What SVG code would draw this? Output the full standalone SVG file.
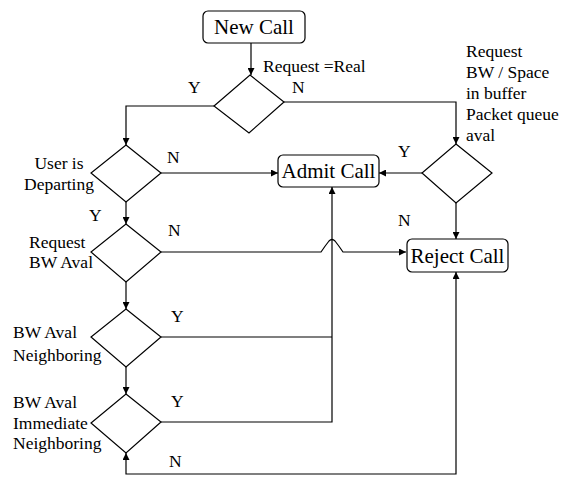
<svg xmlns="http://www.w3.org/2000/svg" width="569" height="477" viewBox="0 0 569 477">
<style>
.box{fill:#fff;stroke:#000;stroke-width:1.2}
.dia{fill:#fff;stroke:#000;stroke-width:1.2}
.ln{fill:none;stroke:#000;stroke-width:1.2}
.bt{font-size:21px;text-anchor:middle;fill:#000}
.lb{font-size:17.5px;fill:#000}
</style>
<defs>
<marker id="ah" viewBox="0 0 10 10" refX="10" refY="5" markerWidth="8" markerHeight="7" markerUnits="userSpaceOnUse" orient="auto-start-reverse">
<path d="M0,0 L10,5 L0,10 z" fill="#000"/>
</marker>
</defs>
<rect width="569" height="477" fill="#fff"/>
<g id="connectors">
<path class="ln" d="M251,43 V75" marker-end="url(#ah)"/>
<path class="ln" d="M214,106 H126 V145" marker-end="url(#ah)"/>
<path class="ln" d="M284,102 H456 V144" marker-end="url(#ah)"/>
<path class="ln" d="M161,173 H278" marker-end="url(#ah)"/>
<path class="ln" d="M126,202 V224" marker-end="url(#ah)"/>
<path class="ln" d="M161,252 H321 Q325,246 329,241 Q332,238 335,241 Q339,246 343,252 H406" marker-end="url(#ah)"/>
<path class="ln" d="M126,282 V309" marker-end="url(#ah)"/>
<path class="ln" d="M161,337 H332"/>
<path class="ln" d="M126,367 V394" marker-end="url(#ah)"/>
<path class="ln" d="M161,422 H332 V187" marker-end="url(#ah)"/>
<path class="ln" d="M126,453 V474 H456 V272" marker-start="url(#ah)" marker-end="url(#ah)"/>
<path class="ln" d="M422,173 H379" marker-end="url(#ah)"/>
<path class="ln" d="M456,203 V239" marker-end="url(#ah)"/>
</g>
<g font-family="Liberation Serif, DejaVu Serif, serif">
<g id="new-call">
<rect class="box" x="203" y="11" width="102" height="32" rx="5"/>
<text class="bt" x="254" y="34">New Call</text>
</g>
<g id="d-real">
<polygon class="dia" points="250,75 284,102 249,133 214,106"/>
<text class="lb" x="263" y="72">Request =Real</text>
<text class="lb" x="188" y="93">Y</text>
<text class="lb" x="292" y="93">N</text>
</g>
<g id="d-departing">
<polygon class="dia" points="126,145 161,173 126,202 91,173"/>
<text class="lb" x="59" y="169" text-anchor="middle">User is</text>
<text class="lb" x="59" y="190" text-anchor="middle">Departing</text>
<text class="lb" x="167" y="163">N</text>
<text class="lb" x="89" y="221">Y</text>
</g>
<g id="d-bw">
<polygon class="dia" points="126,224 161,252 126,282 91,252"/>
<text class="lb" x="29" y="248">Request</text>
<text class="lb" x="29" y="268">BW Aval</text>
<text class="lb" x="168" y="236">N</text>
</g>
<g id="d-neigh">
<polygon class="dia" points="126,309 161,337 126,367 91,337"/>
<text class="lb" x="13" y="338">BW Aval</text>
<text class="lb" x="13" y="361">Neighboring</text>
<text class="lb" x="171" y="322">Y</text>
</g>
<g id="d-imm">
<polygon class="dia" points="126,394 161,422 126,453 91,423"/>
<text class="lb" x="13" y="408">BW Aval</text>
<text class="lb" x="13" y="429">Immediate</text>
<text class="lb" x="13" y="449">Neighboring</text>
<text class="lb" x="171" y="407">Y</text>
<text class="lb" x="169" y="467">N</text>
</g>
<g id="admit-call">
<rect class="box" x="278" y="155" width="101" height="32" rx="5"/>
<text class="bt" x="328.5" y="178">Admit Call</text>
</g>
<g id="d-buffer">
<polygon class="dia" points="456,144 492,173 456,203 422,173"/>
<text class="lb" x="466" y="57">Request</text>
<text class="lb" x="466" y="78">BW / Space</text>
<text class="lb" x="466" y="99">in buffer</text>
<text class="lb" x="466" y="120">Packet queue</text>
<text class="lb" x="466" y="141">aval</text>
<text class="lb" x="398" y="157">Y</text>
<text class="lb" x="398" y="226">N</text>
</g>
<g id="reject-call">
<rect class="box" x="407" y="239" width="101" height="33" rx="5"/>
<text class="bt" x="457.5" y="263">Reject Call</text>
</g>
</g>
</svg>
